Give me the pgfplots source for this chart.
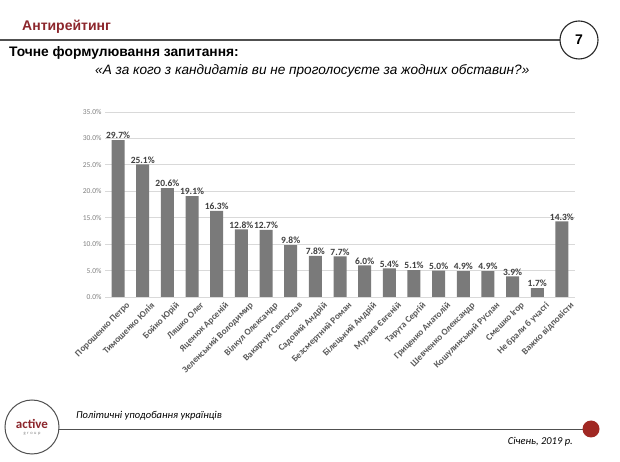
\documentclass[border=0pt]{standalone}
\usepackage{pgfplots}
\pgfplotsset{compat=1.18}
\usepackage{fontspec}
\setmainfont{Liberation Sans}
\newfontfamily\calfont{Carlito}
\definecolor{hdr}{RGB}{140,38,44}
\definecolor{dot}{RGB}{160,40,35}
\definecolor{barc}{RGB}{122,122,122}
\definecolor{gridc}{RGB}{217,217,217}
\definecolor{dtext}{RGB}{64,64,64}
\definecolor{ltext}{RGB}{89,89,89}
\definecolor{linec}{RGB}{80,80,80}
\begin{document}
\begin{tikzpicture}[x=1pt,y=1pt]
\useasboundingbox (0,0) rectangle (620,462);
\fill[white] (0,0) rectangle (620,462);
% header
\node[anchor=base west, inner sep=0, text=hdr, font=\fontsize{14}{16}\selectfont\bfseries] at (22,431) {Антирейтинг};
\draw[line width=1.2, color=linec] (0,422) -- (560,422);
\draw[line width=1.1, color=black!85] (579,422) circle (19);
\node[font=\fontsize{14}{16}\selectfont\bfseries] at (579,422) {7};
\node[anchor=base west, inner sep=0, font=\fontsize{13.8}{15}\selectfont\bfseries] at (9,405) {Точне формулювання запитання:};
\node[anchor=base west, inner sep=0, font=\fontsize{13.6}{15}\selectfont\itshape] at (95,387) {«А за кого з кандидатів ви не проголосуєте за жодних обставин?»};
% footer
\draw[line width=1, color=linec] (32,35) circle (27);
\node[text=hdr, font=\calfont\bfseries\fontsize{13}{14}\selectfont] at (32,38) {active};
\node[text=gray, font=\calfont\fontsize{4.5}{5}\selectfont] at (32,28.5) {g\,\,r\,\,o\,\,u\,\,p};
\draw[line width=1, color=linec] (59,32) -- (583,32);
\fill[dot] (591,33) circle (8.5);
\node[anchor=base west, inner sep=0, font=\calfont\itshape\fontsize{10.5}{12}\selectfont] at (76,43) {Політичні уподобання українців};
\node[anchor=base east, inner sep=0, font=\calfont\itshape\fontsize{10.5}{12}\selectfont] at (573,17) {Січень, 2019 р.};
% chart
\begin{axis}[
  at={(105pt,165pt)}, anchor=south west,
  scale only axis, width=470pt, height=185pt,
  ymin=0, ymax=35, xmin=-0.53, xmax=18.53,
  ytick={0,5,...,35},
  xtick={0,...,18},
  xticklabels={Порошенко Петро,Тимошенко Юлія,Бойко Юрій,Ляшко Олег,Яценюк Арсеній,Зеленський Володимир,Вілкул Олександр,Вакарчук Святослав,Садовий Андрій,Безсмертний Роман,Білецький Андрій,Мураєв Євгеній,Тарута Сергій,Гриценко Анатолій,Шевченко Олександр,Кошулинський Руслан,Смешко Ігор,Не брали б участі,Важко відповісти},
  xticklabel style={rotate=45, anchor=north east, inner sep=0.5pt, font=\calfont\bfseries\fontsize{9.2}{10}\selectfont, text=ltext, xshift=3pt, yshift=-8pt},
  yticklabel={\pgfmathprintnumber[fixed,fixed zerofill,precision=1,assume math mode=true]{\tick}\%},
  yticklabel style={font=\calfont\fontsize{7.5}{8}\selectfont, text=gray},
  ymajorgrids, grid style={color=gridc, line width=0.9pt},
  axis line style={draw=none},
  major tick length=0,
  ybar, bar width=13pt,
  nodes near coords={\pgfmathprintnumber[fixed,fixed zerofill,precision=1,assume math mode=true]{\pgfplotspointmeta}\%},
  nodes near coords style={font=\calfont\bfseries\fontsize{9.5}{10}\selectfont, text=dtext, inner sep=1pt},
]
\addplot[fill=barc, draw=none] coordinates {
(0,29.7) (1,25.1) (2,20.6) (3,19.1) (4,16.3) (5,12.8) (6,12.7) (7,9.8) (8,7.8) (9,7.7)
(10,6.0) (11,5.4) (12,5.1) (13,5.0) (14,4.9) (15,4.9) (16,3.9) (17,1.7) (18,14.3)};
\end{axis}
\end{tikzpicture}
\end{document}
